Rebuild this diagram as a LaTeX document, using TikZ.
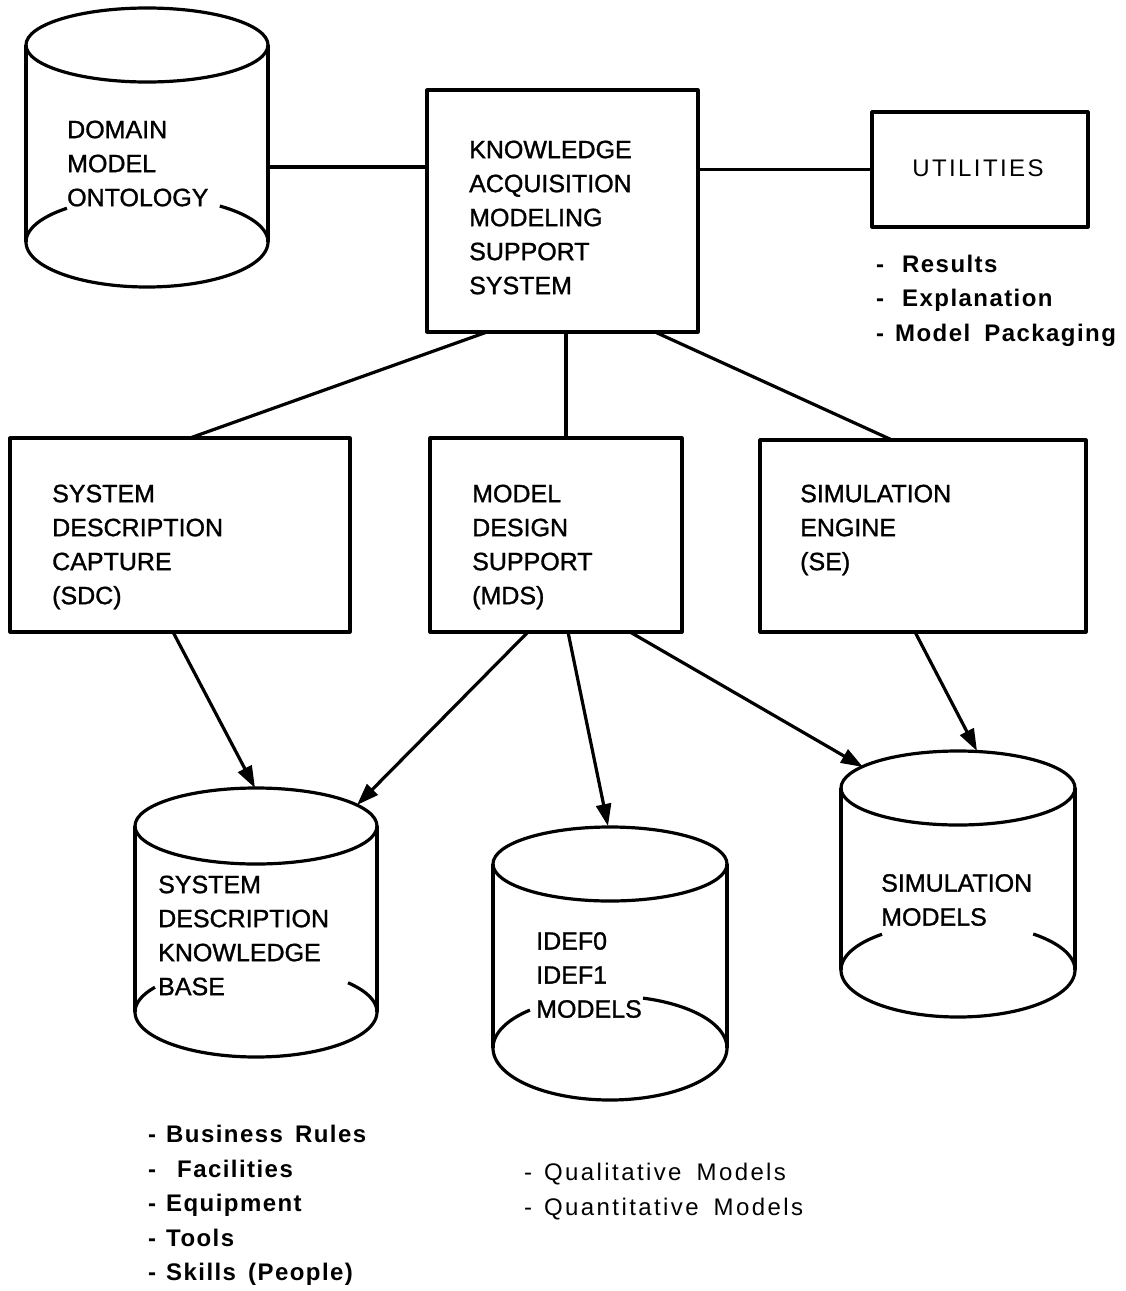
\documentclass[tikz,border=0pt]{standalone}
\usepackage{fontspec}
\setmainfont{Liberation Sans}
\usetikzlibrary{arrows.meta}

% cylinder: centre x, x radius, top centre y, top y radius,
% bottom centre y, bottom y radius, end angle of left lip, start angle of right lip
\newcommand{\cylshape}[8]{%
  \draw[ln] (#1,#3) ellipse [x radius=#2, y radius=#4];
  \draw[ln] (#1-#2,#3) -- (#1-#2,#5);
  \draw[ln] (#1+#2,#3) -- (#1+#2,#5);
  \draw[ln] plot[domain=0:180,samples=72,smooth] ({#1+#2*cos(\x)},{#5+#6*sin(\x)});
  \draw[ln] plot[domain=180:#7,samples=20,smooth] ({#1+#2*cos(\x)},{#5+#6*sin(\x)});
  \draw[ln] plot[domain=#8:360,samples=20,smooth] ({#1+#2*cos(\x)},{#5+#6*sin(\x)});
}

\tikzset{
  ln/.style={line width=3.2pt, line join=round},
  box/.style={ln, draw, rectangle, inner sep=0pt},
  lbl/.style={anchor=west, align=left, inner sep=0pt,
    font=\fontsize{25}{34}\selectfont\addfontfeature{FakeBold=1.2}},
  lst/.style={anchor=west, align=left, inner sep=0pt,
    font=\fontsize{24}{34.5}\selectfont\addfontfeature{LetterSpace=10}},
  lstb/.style={lst, font=\fontsize{24}{34.5}\selectfont\bfseries\addfontfeature{LetterSpace=6}},
  arr/.style={ln, -{Triangle[length=22pt,width=15pt]}},
}

\begin{document}
\begin{tikzpicture}[x=1pt,y=-1pt]
\useasboundingbox (0,0) rectangle (1126,1291);

% ---- storage drums ----
\cylshape{147}{121}{45}{37}{242}{45}{228.6}{307}
\cylshape{256}{121}{826}{38}{1012}{45}{213.4}{319.5}
\cylshape{610}{117}{864}{37}{1048}{52}{226.8}{286.4}
\cylshape{958}{117}{788}{37}{970}{47}{229.5}{310}

\node[lbl] (dmo) at (67,163.5) {DOMAIN\\MODEL\\ONTOLOGY};
\node[lbl] (sdkb) at (158,935.5) {SYSTEM\\DESCRIPTION\\KNOWLEDGE\\BASE};
\node[lbl] (idef) at (536,975) {IDEF0\\IDEF1\\MODELS};
\node[lbl] (simm) at (881,900) {SIMULATION\\MODELS};

% ---- processing boxes ----
\node[box, minimum width=271pt, minimum height=242pt] (ka) at (562.5,211) {};
\node[box, minimum width=216pt, minimum height=115pt] (ut) at (980,169.5) {};
\node[box, minimum width=340pt, minimum height=194pt] (sdc) at (180,535) {};
\node[box, minimum width=252pt, minimum height=194pt] (mds) at (556,535) {};
\node[box, minimum width=326pt, minimum height=192pt] (se) at (923,536) {};

\node[lbl] (katext) at (469,217.5) {KNOWLEDGE\\ACQUISITION\\MODELING\\SUPPORT\\SYSTEM};
\node[lst, anchor=center] (uttext) at (978,168) {UTILITIES};
\node[lbl] (sdctext) at (52,547) {SYSTEM\\DESCRIPTION\\CAPTURE\\(SDC)};
\node[lbl] (mdstext) at (472,547) {MODEL\\DESIGN\\SUPPORT\\(MDS)};
\node[lbl] (setext) at (800,530) {SIMULATION\\ENGINE\\(SE)};

% ---- bullet lists ----
\node[lstb] (utlist) at (876,300.5) {-\hspace{18pt}Results\\-\hspace{18pt}Explanation\\-\hspace{11pt}Model\hspace{6pt} Packaging};
\node[lstb] (kblist) at (148,1205.5) {-\hspace{10pt}Business\hspace{4pt} Rules\\-\hspace{21pt}Facilities\\-\hspace{10pt}Equipment\\-\hspace{10pt}Tools\\-\hspace{10pt}Skills\hspace{4pt} (People)};
\node[lst] (mdlist) at (524,1191.5) {-\hspace{12pt}Qualitative\hspace{6pt} Models\\-\hspace{12pt}Quantitative\hspace{6pt} Models};

% ---- attachment points ----
\coordinate (dmo-e) at (268,167);
\coordinate (ka-s1) at (487,332);
\coordinate (ka-s2) at (566,332);
\coordinate (ka-s3) at (655,332);
\coordinate (sdc-n) at (190,438);
\coordinate (mds-n) at (566,438);
\coordinate (se-n) at (892,440);
\coordinate (sdc-s) at (173,632);
\coordinate (mds-s1) at (528,632);
\coordinate (mds-s2) at (568,632);
\coordinate (mds-s3) at (630,632);
\coordinate (se-s) at (915,632);
\coordinate (sdkb-n1) at (255,788);
\coordinate (sdkb-n2) at (357,805);
\coordinate (idef-n) at (608,826);
\coordinate (simm-n1) at (863,767);
\coordinate (simm-n2) at (977,751);

% ---- connectors ----
\draw[ln] (dmo-e) -- (ka.west |- dmo-e);
\draw[ln] (ka.east |- ut.west) -- (ut.west);
\draw[ln] (ka-s1) -- (sdc-n);
\draw[ln] (ka-s2) -- (mds-n);
\draw[ln] (ka-s3) -- (se-n);

\draw[arr] (sdc-s) -- (sdkb-n1);
\draw[arr] (mds-s1) -- (sdkb-n2);
\draw[arr] (mds-s2) -- (idef-n);
\draw[arr] (mds-s3) -- (simm-n1);
\draw[arr] (se-s) -- (simm-n2);
\end{tikzpicture}
\end{document}
